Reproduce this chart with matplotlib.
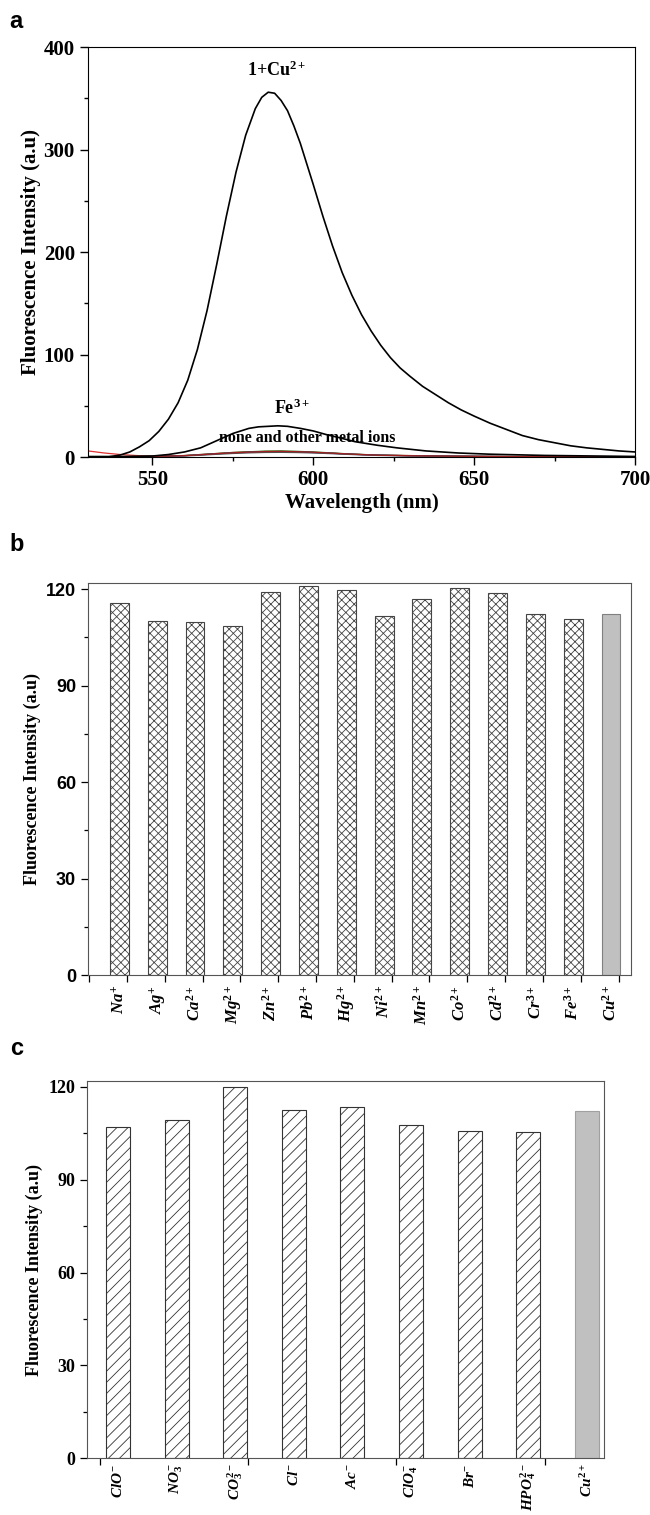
import matplotlib
matplotlib.use('Agg')
import matplotlib.pyplot as plt

plt.rcParams['font.family'] = 'Liberation Serif'
plt.rcParams['font.weight'] = 'bold'
plt.rcParams['mathtext.fontset'] = 'custom'
plt.rcParams['mathtext.rm'] = 'Liberation Serif:bold'
plt.rcParams['mathtext.it'] = 'Liberation Serif:italic:bold'
plt.rcParams['mathtext.bf'] = 'Liberation Serif:bold'
plt.rcParams['hatch.linewidth'] = 0.6

# panel a: emission spectra
wl_cu = [536, 540, 543, 546, 549, 552, 555, 558, 561, 564, 567, 570, 573, 576,
         579, 582, 584, 586, 588, 590, 592, 594, 596, 598, 600, 603, 606, 609,
         612, 615, 618, 621, 624, 627, 630, 634, 638, 642, 646, 650, 655, 660,
         665, 670, 675, 680, 685, 690, 695, 700]
int_cu = [0, 2, 5, 10, 16, 25, 37, 53, 75, 105, 143, 188, 235, 278,
          314, 340, 351, 356, 355, 348, 338, 323, 306, 286, 266, 235, 206, 180,
          158, 139, 123, 109, 97, 87, 79, 69, 61, 53, 46, 40, 33, 27,
          21, 17, 14, 11, 9, 7.5, 6, 5]

wl_fe = [530, 540, 550, 555, 560, 565, 570, 575, 580, 583, 586, 589, 592, 596,
         600, 604, 608, 613, 620, 626, 635, 645, 655, 672, 700]
int_fe = [0.5, 0.5, 1, 2.5, 5, 9, 16, 23, 28, 29.5, 30, 30.5, 30, 28,
          25.5, 22, 19, 15, 11.5, 9, 6, 4, 2.8, 1.6, 0.6]

wl_ion = [530, 535, 540, 545, 550, 555, 560, 565, 570, 575, 580, 585, 590,
          595, 600, 605, 610, 615, 620, 630, 640, 650, 660, 680, 700]
int_none = [6, 4, 2.5, 1.5, 1, 1, 1.5, 2.5, 3.5, 4.5, 5, 5.5, 5.5,
            5, 4.5, 4, 3, 2.5, 2, 1.5, 1, 0.8, 0.6, 0.4, 0.3]
int_ion1 = [0.5, 0.5, 0.5, 0.6, 0.8, 1, 1.5, 2.5, 3.5, 4.5, 5.2, 5.8, 6,
            5.6, 5, 4.2, 3.3, 2.6, 2, 1.4, 1, 0.8, 0.6, 0.4, 0.3]
int_ion2 = [0.3, 0.3, 0.4, 0.5, 0.7, 0.9, 1.3, 2.2, 3.2, 4, 4.7, 5.2, 5.3,
            5, 4.5, 3.8, 3, 2.4, 1.8, 1.3, 0.9, 0.7, 0.5, 0.3, 0.2]
int_ion3 = [0.2, 0.2, 0.3, 0.4, 0.6, 0.8, 1.1, 1.8, 2.7, 3.5, 4.1, 4.5, 4.6,
            4.4, 4, 3.4, 2.7, 2.1, 1.6, 1.1, 0.8, 0.6, 0.4, 0.3, 0.2]
int_ion4 = [0.4, 0.4, 0.4, 0.5, 0.7, 1, 1.4, 2.3, 3.3, 4.2, 4.9, 5.4, 5.6,
            5.3, 4.8, 4, 3.2, 2.5, 1.9, 1.3, 1, 0.7, 0.5, 0.4, 0.3]
ion_curves = [int_none, int_ion1, int_ion2, int_ion3, int_ion4]
ion_colors = ['#e03030', '#208020', '#2040c0', '#505050', '#a02020']

# panel b: metal ions
metal_labels = [r'$Na^{+}$', r'$Ag^{+}$', r'$Ca^{2+}$', r'$Mg^{2+}$', r'$Zn^{2+}$',
                r'$Pb^{2+}$', r'$Hg^{2+}$', r'$Ni^{2+}$', r'$Mn^{2+}$', r'$Co^{2+}$',
                r'$Cd^{2+}$', r'$Cr^{3+}$', r'$Fe^{3+}$', r'$Cu^{2+}$']
metal_vals = [115.6, 110.0, 109.7, 108.6, 119.2, 120.9, 119.9, 111.6, 117.1,
              120.4, 118.9, 112.2, 110.6, 112.4]

# panel c: anions
anion_labels = [r'$ClO^{-}$', r'$NO_{3}^{-}$', r'$CO_{3}^{2-}$', r'$Cl^{-}$', r'$Ac^{-}$',
                r'$ClO_{4}^{-}$', r'$Br^{-}$', r'$HPO_{4}^{2-}$', r'$Cu^{2+}$']
anion_vals = [107.1, 109.2, 119.9, 112.4, 113.4, 107.7, 105.7, 105.3, 112.3]

fig = plt.figure(figsize=(6.5, 15.15), dpi=100)

# ---- a ----
ax = fig.add_axes([0.1354, 0.6983, 0.8415, 0.2706])
for vals, col in zip(ion_curves, ion_colors):
    ax.plot(wl_ion, vals, color=col, lw=0.9)
ax.plot(wl_fe, int_fe, color='black', lw=1.2)
ax.plot(wl_cu, int_cu, color='black', lw=1.2)
ax.set_xlim(530, 700)
ax.set_ylim(0, 400)
ax.set_xticks([550, 600, 650, 700])
ax.set_xticks([575, 625, 675], minor=True)
ax.set_yticks([0, 100, 200, 300, 400])
ax.set_yticks([50, 150, 250, 350], minor=True)
ax.tick_params(which='major', length=6, width=1, labelsize=15, top=False, right=False)
ax.tick_params(which='minor', length=3, width=1, top=False, right=False)
ax.set_xlabel('Wavelength (nm)', fontsize=15, fontweight='bold', labelpad=2)
ax.set_ylabel('Fluorescence Intensity (a.u)', fontsize=15, fontweight='bold', labelpad=2)
ax.text(588.5, 368, r'1+Cu$^{2+}$', fontsize=13, ha='center', va='bottom')
ax.text(593.5, 38, r'Fe$^{3+}$', fontsize=13, ha='center', va='bottom')
ax.text(598, 11, 'none and other metal ions', fontsize=11.5, ha='center', va='bottom')
fig.text(0.015, 0.9935, 'a', family='Liberation Sans', fontsize=17, fontweight='bold',
         va='top')

# ---- b ----
bx = fig.add_axes([0.1354, 0.3564, 0.8354, 0.2587])
pos_b = list(range(1, len(metal_vals) + 1))
bars = bx.bar(pos_b, metal_vals, width=0.5, facecolor='white', edgecolor='#444444',
              hatch='xxxx', linewidth=0.8)
bars[-1].set_hatch('')
bars[-1].set_facecolor('#c0c0c0')
bars[-1].set_edgecolor('#808080')
bx.set_xlim(0.17, 14.53)
bx.set_ylim(0, 121.9)
bx.set_xticks(pos_b)
bx.set_xticklabels(metal_labels, rotation=90, fontsize=12)
bx.set_xticks([p + 0.2 for p in range(0, len(metal_vals) + 1)], minor=True)
bx.tick_params(axis='x', which='major', length=0, pad=7)
bx.tick_params(axis='x', which='minor', length=5, width=0.9)
bx.set_yticks([0, 30, 60, 90, 120])
bx.set_yticks([15, 45, 75, 105], minor=True)
bx.tick_params(axis='y', which='major', length=5, width=0.9, labelsize=13)
bx.tick_params(axis='y', which='minor', length=3, width=0.9)
for lab in bx.get_yticklabels():
    lab.set_family('Liberation Sans')
bx.set_ylabel('Fluorescence Intensity (a.u)', fontsize=13, fontweight='bold', labelpad=4)
for s in bx.spines.values():
    s.set_color('#555555')
fig.text(0.015, 0.648, 'b', family='Liberation Sans', fontsize=17, fontweight='bold',
         va='top')

# ---- c ----
cx = fig.add_axes([0.1346, 0.0376, 0.7946, 0.2488])
pos_c = list(range(1, len(anion_vals) + 1))
cbars = cx.bar(pos_c, anion_vals, width=0.41, facecolor='white', edgecolor='#333333',
               hatch='///', linewidth=0.8)
cbars[-1].set_hatch('')
cbars[-1].set_facecolor('#c0c0c0')
cbars[-1].set_edgecolor('#a0a0a0')
cx.set_xlim(0.48, 9.29)
cx.set_ylim(0, 121.9)
cx.set_xticks(pos_c)
cx.set_xticklabels(anion_labels, rotation=90, fontsize=11)
cx.set_xticks([0.69, 3.22, 5.75, 8.28], minor=True)
cx.tick_params(axis='x', which='major', length=0, pad=4)
cx.tick_params(axis='x', which='minor', length=5, width=0.9)
cx.set_yticks([0, 30, 60, 90, 120])
cx.set_yticks([15, 45, 75, 105], minor=True)
cx.tick_params(axis='y', which='major', length=5, width=0.9, labelsize=13)
cx.tick_params(axis='y', which='minor', length=3, width=0.9)
cx.set_ylabel('Fluorescence Intensity (a.u)', fontsize=13, fontweight='bold', labelpad=4)
for s in cx.spines.values():
    s.set_color('#555555')
fig.text(0.015, 0.3155, 'c', family='Liberation Sans', fontsize=17, fontweight='bold',
         va='top')

fig.savefig('out.png', dpi=100)
